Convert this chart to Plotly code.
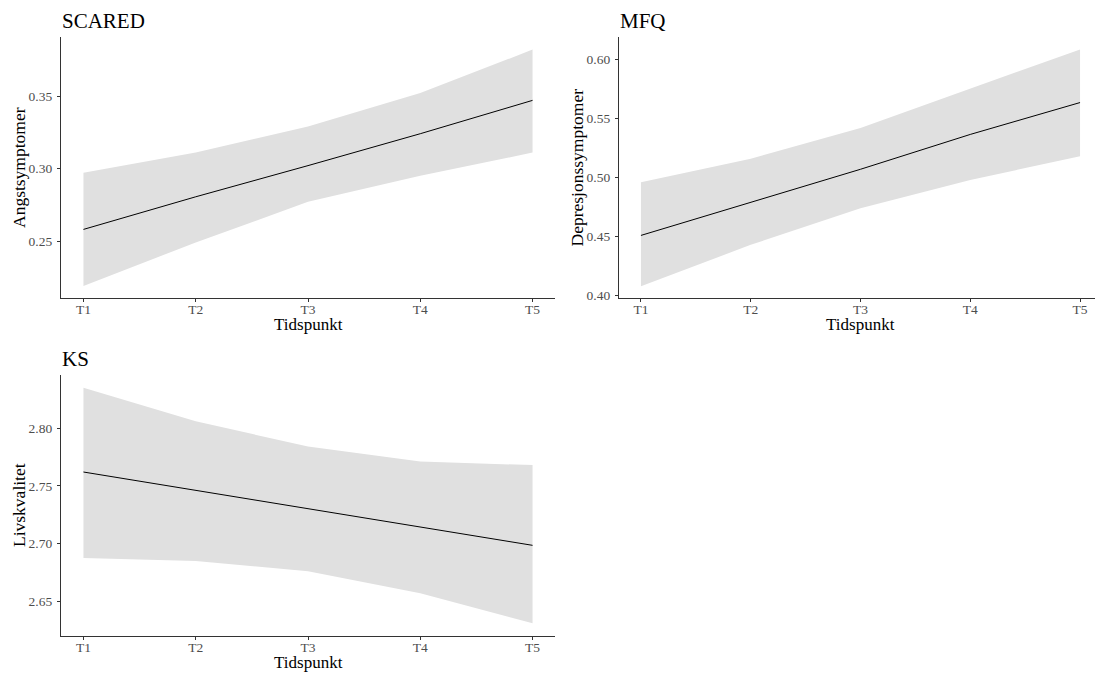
import plotly.graph_objects as go

time_labels = ["T1", "T2", "T3", "T4", "T5"]
time_pos = [1, 2, 3, 4, 5]

scared_fit = [0.258, 0.2805, 0.302, 0.324, 0.347]
scared_lo = [0.219, 0.249, 0.277, 0.295, 0.311]
scared_hi = [0.297, 0.311, 0.329, 0.352, 0.382]

mfq_fit = [0.451, 0.479, 0.507, 0.5365, 0.5635]
mfq_lo = [0.408, 0.443, 0.474, 0.498, 0.518]
mfq_hi = [0.496, 0.516, 0.542, 0.575, 0.6085]

ks_fit = [2.762, 2.746, 2.730, 2.7145, 2.6985]
ks_lo = [2.6875, 2.685, 2.676, 2.657, 2.631]
ks_hi = [2.835, 2.806, 2.784, 2.771, 2.768]

panels = [
    dict(name="SCARED", ylab="Angstsymptomer", fit=scared_fit, lo=scared_lo, hi=scared_hi,
         yticks=[0.25, 0.30, 0.35], yrange=[0.2107, 0.3907], ylabx=18.5),
    dict(name="MFQ", ylab="Depresjonssymptomer", fit=mfq_fit, lo=mfq_lo, hi=mfq_hi,
         yticks=[0.40, 0.45, 0.50, 0.55, 0.60], yrange=[0.398, 0.619], ylabx=576),
    dict(name="KS", ylab="Livskvalitet", fit=ks_fit, lo=ks_lo, hi=ks_hi,
         yticks=[2.65, 2.70, 2.75, 2.80], yrange=[2.620, 2.846], ylabx=18.5),
]

# page body has an 8px margin; figure drawn at offset (8, 8)
OFF = 8
W, H = 1103 - OFF, 678 - OFF


def px(x):
    return (x - OFF) / W


def py(y):
    return 1 - (y - OFF) / H


# pixel boxes in the screenshot: (x0, x1, ytop, ybottom)
boxes = [(61, 555, 37, 298), (619, 1102, 37, 298), (61, 555, 375, 636)]

fig = go.Figure()
FONT = "Liberation Serif, Times New Roman, serif"
layout = {}
annotations = []
for i, (p, b) in enumerate(zip(panels, boxes)):
    k = "" if i == 0 else str(i + 1)
    xa, ya = "x" + k, "y" + k
    fig.add_trace(go.Scatter(x=time_pos, y=p["hi"], mode="lines", line=dict(width=0),
                             xaxis=xa, yaxis=ya, showlegend=False, hoverinfo="skip"))
    fig.add_trace(go.Scatter(x=time_pos, y=p["lo"], mode="lines", line=dict(width=0),
                             fill="tonexty", fillcolor="#E0E0E0",
                             xaxis=xa, yaxis=ya, showlegend=False, hoverinfo="skip"))
    fig.add_trace(go.Scatter(x=time_pos, y=p["fit"], mode="lines",
                             line=dict(color="black", width=1),
                             xaxis=xa, yaxis=ya, showlegend=False))
    x0, x1, yt, yb = b
    layout["xaxis" + k] = dict(
        domain=[px(x0), px(x1)], anchor=ya, range=[0.8, 5.2], automargin=False,
        tickvals=time_pos, ticktext=time_labels,
        showgrid=False, zeroline=False, showline=True, linecolor="#333333", linewidth=1.2,
        ticks="outside", ticklen=3, tickcolor="#333333", ticklabelstandoff=-4,
        tickfont=dict(family=FONT, size=13.5, color="#4D4D4D"),
    )
    layout["yaxis" + k] = dict(
        domain=[py(yb), py(yt)], anchor=xa, range=p["yrange"], automargin=False,
        tickvals=p["yticks"], ticktext=["%.2f" % v for v in p["yticks"]],
        showgrid=False, zeroline=False, showline=True, linecolor="#333333", linewidth=1.2,
        ticks="outside", ticklen=3, tickcolor="#333333", ticklabelstandoff=2,
        tickfont=dict(family=FONT, size=13.5, color="#4D4D4D"),
    )
    # panel title
    annotations.append(dict(text=p["name"], xref="paper", yref="paper",
                            x=px(x0 - 1), y=py(yt - 2), xanchor="left", yanchor="bottom",
                            showarrow=False, font=dict(family=FONT, size=21, color="black")))
    # x-axis title
    annotations.append(dict(text="Tidspunkt", xref="paper", yref="paper",
                            x=px((x0 + x1) / 2), y=py(yb + 26), xanchor="center", yanchor="middle",
                            showarrow=False, font=dict(family=FONT, size=17, color="black")))
    # y-axis title
    annotations.append(dict(text=p["ylab"], xref="paper", yref="paper", textangle=-90,
                            x=px(p["ylabx"]), y=py((yt + yb) / 2), xanchor="center", yanchor="middle",
                            showarrow=False, font=dict(family=FONT, size=17.5, color="black")))

fig.update_layout(**layout)
fig.update_layout(
    width=W, height=H, margin=dict(l=0, r=0, t=0, b=0),
    plot_bgcolor="white", paper_bgcolor="white",
    annotations=annotations,
)
fig.write_html("out.html")
